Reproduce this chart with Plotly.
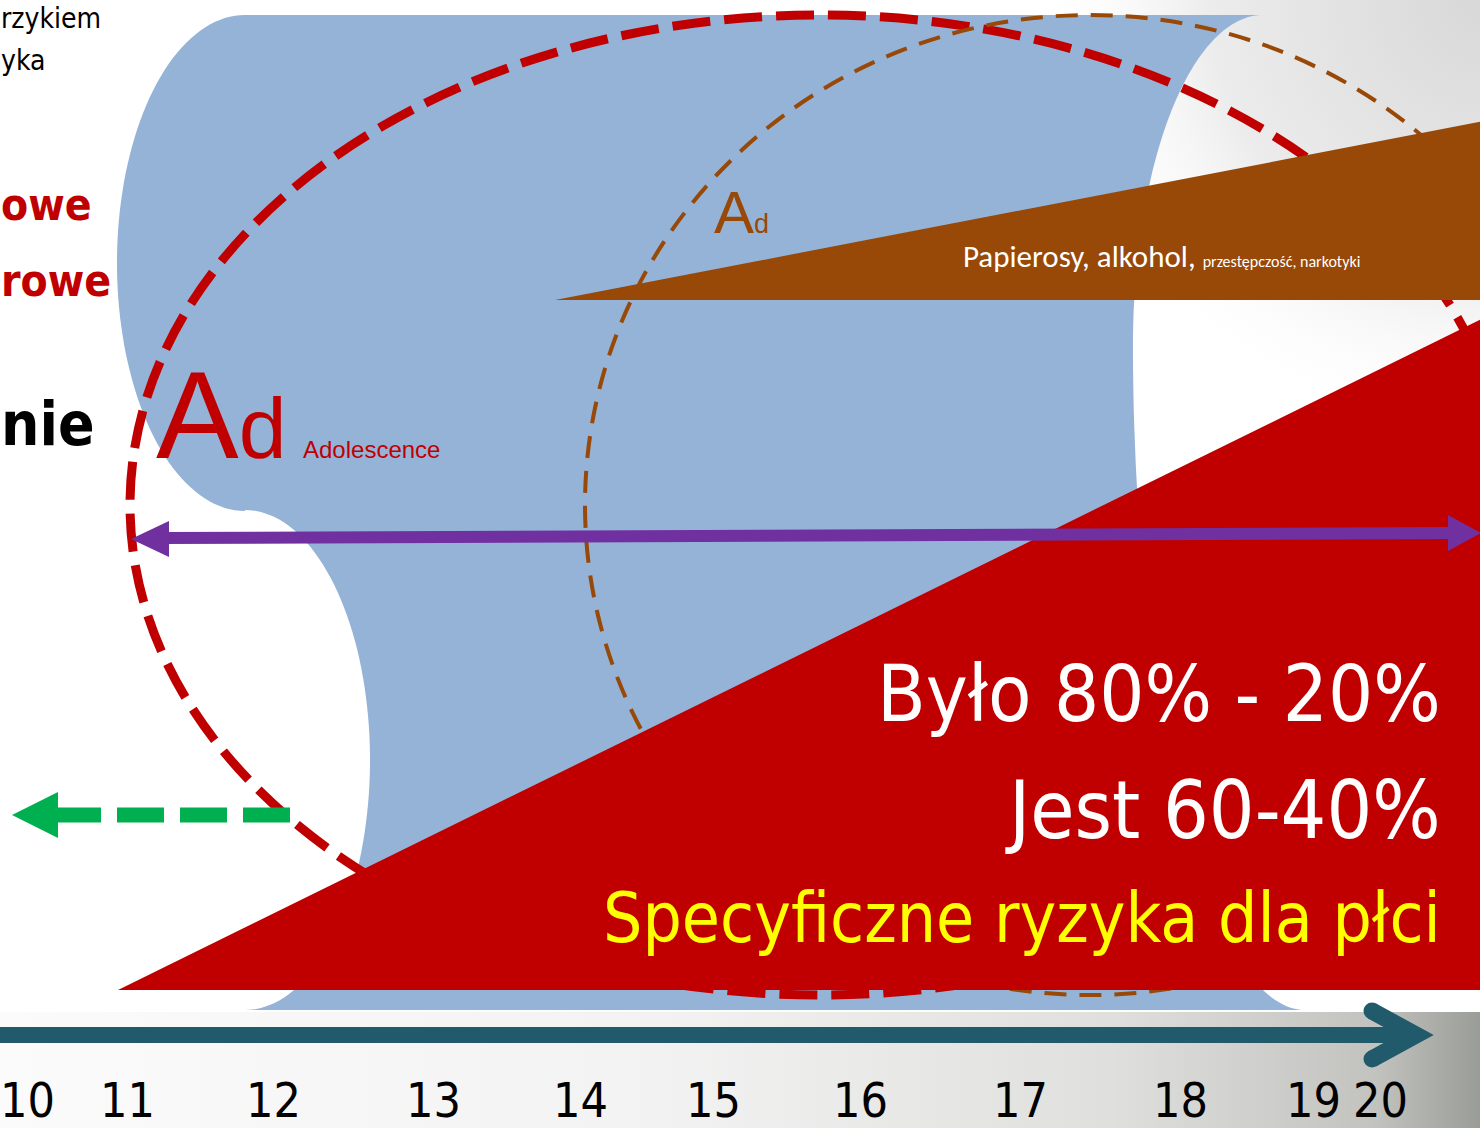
import numpy as np
import plotly.graph_objects as go

W, H = 1480, 1128

# ---------------- data / text content ----------------
age_labels = ["10", "11", "12", "13", "14", "15", "16", "17", "18", "19", "20"]
age_pos = [27, 127, 273, 433, 580, 713, 860, 1020, 1180, 1313, 1380]

left_black_small = ["rzykiem", "yka"]
left_red_bold = ["owe", "rowe"]
left_black_big = ["nie"]

ad_big = ("A", "d")
ad_label = "Adolescence"
ad_small = ("A", "d")
risk_main = "Papierosy, alkohol,"
risk_small = "przestępczość, narkotyki"
ratio_lines = ["Było 80% - 20%", "Jest 60-40%"]
gender_line = "Specyficzne ryzyka dla płci"

# ---------------- styles ----------------
BLUE = "#95b3d7"
RED = "#c00000"
BROWN = "#984807"
PURPLE = "#7030a0"
GREEN = "#00b050"
TEAL = "#215a6b"
YELLOW = "#ffff00"
ARIAL = "Liberation Sans, Arial, sans-serif"
NARROW = ("Liberation Sans Narrow, Arial Narrow, DejaVu Sans Condensed, "
          "Liberation Sans, sans-serif")
CALIBRI = "Carlito, Lato, Open Sans, sans-serif"


def arc(cx, cy, rx, ry, t0, t1, n=80):
    t = np.radians(np.linspace(t0, t1, n))
    return list(zip(cx + rx * np.cos(t), cy + ry * np.sin(t)))


def path_from(points, close=True):
    s = "M " + " L ".join(f"{x:.1f},{y:.1f}" for x, y in points)
    return s + (" Z" if close else "")


# blue "cylinder" shape
blue_pts = [(245, 15), (1263, 15)]
blue_pts += arc(1263, 345, 130, 330, -90, -180)
blue_pts += arc(1305, 345, 172, 665, 180, 90)
blue_pts += [(245, 1010)]
blue_pts += arc(245, 760, 125, 250, 90, -90)
blue_pts += arc(245, 263, 128, 248, 90, 270)

fig = go.Figure()

# background texture approximations
fig.add_trace(go.Scatter(
    x=[0, 1480, 1480, 0], y=[1012, 1012, 1128, 1128], fill="toself", mode="none",
    fillgradient=dict(type="horizontal",
                      colorscale=[[0, "#fbfbfb"], [0.45, "#f2f2f2"], [0.75, "#dfdfdd"],
                                  [0.93, "#c2c3bf"], [1, "#9a9c97"]]),
    hoverinfo="skip", showlegend=False))
fig.add_trace(go.Scatter(
    x=[1030, 1930, 1930, 1030], y=[-450, -450, 450, 450], fill="toself", mode="none",
    fillgradient=dict(type="radial",
                      colorscale=[[0, "#d8d8d8"], [0.6, "#ececec"], [1, "rgba(255,255,255,0)"]]),
    hoverinfo="skip", showlegend=False))

shapes = []
shapes.append(dict(type="path", path=path_from(blue_pts), fillcolor=BLUE,
                   line=dict(width=0), xref="x", yref="y"))
# red dashed ellipse
shapes.append(dict(type="circle", x0=130, x1=1510, y0=15, y1=995, xref="x", yref="y",
                   line=dict(color=RED, width=9, dash="38px,14px")))
# brown dashed ellipse
shapes.append(dict(type="circle", x0=585, x1=1595, y0=15, y1=995, xref="x", yref="y",
                   line=dict(color=BROWN, width=4, dash="22px,13px")))
# brown triangle
shapes.append(dict(type="path", path="M 555,300 L 1500,118 L 1500,300 Z", fillcolor=BROWN,
                   line=dict(width=0), xref="x", yref="y"))
# red triangle
shapes.append(dict(type="path", path="M 118,990 L 1500,310 L 1500,990 Z", fillcolor=RED,
                   line=dict(width=0), xref="x", yref="y"))
# purple double arrow
shapes.append(dict(type="line", x0=160, y0=538, x1=1455, y1=533, xref="x", yref="y",
                   line=dict(color=PURPLE, width=12)))
shapes.append(dict(type="path", path="M 131,539 L 169,521 L 169,557 Z", fillcolor=PURPLE,
                   line=dict(width=0), xref="x", yref="y"))
shapes.append(dict(type="path", path="M 1481,533 L 1448,515 L 1448,551 Z", fillcolor=PURPLE,
                   line=dict(width=0), xref="x", yref="y"))
# green dashed arrow
shapes.append(dict(type="line", x0=290, y0=815, x1=56, y1=815, xref="x", yref="y",
                   line=dict(color=GREEN, width=15, dash="47px,16px")))
shapes.append(dict(type="path", path="M 12,815 L 58,792 L 58,838 Z", fillcolor=GREEN,
                   line=dict(width=0), xref="x", yref="y"))
# teal time arrow
shapes.append(dict(type="line", x0=-10, y0=1035, x1=1410, y1=1035, xref="x", yref="y",
                   line=dict(color=TEAL, width=16)))
shapes.append(dict(type="path", path="M 1372,1011 L 1416,1035 L 1372,1059", xref="x", yref="y",
                   line=dict(color=TEAL, width=17)))
for cy in (1011, 1059):
    shapes.append(dict(type="circle", x0=1372 - 8.5, x1=1372 + 8.5, y0=cy - 8.5, y1=cy + 8.5,
                       fillcolor=TEAL, line=dict(width=0), xref="x", yref="y"))


annotations = []


def txt(s, x, baseline, size, color, family, xanchor="left", weight="normal"):
    annotations.append(dict(text=s, x=x, y=baseline - 0.35 * size, xref="x", yref="y",
                            xanchor=xanchor, yanchor="middle", showarrow=False, borderpad=0,
                            font=dict(size=size, color=color, family=family, weight=weight)))


# left-edge text fragments
txt(left_black_small[0], 0, 28, 28, "black", NARROW, "left")
txt(left_black_small[1], 0, 70, 28, "black", NARROW, "left")
txt(left_red_bold[0], 0, 220, 44, RED, NARROW, "left", "bold")
txt(left_red_bold[1], 0, 296, 44, RED, NARROW, "left", "bold")
txt(left_black_big[0], 0, 445, 60, "black", NARROW, "left", "bold")

# Ad labels
txt(f"{ad_big[0]}<span style='font-size:86px'>{ad_big[1]}</span>", 155, 458, 124, RED, ARIAL)
txt(ad_label, 302, 458, 24, RED, ARIAL)
txt(f"{ad_small[0]}<span style='font-size:27px'>{ad_small[1]}</span>", 713, 233, 60, BROWN, ARIAL)

# risk text in brown triangle
txt(f"{risk_main} <span style='font-size:16px'>{risk_small}</span>", 962, 267, 31, "white", CALIBRI)

# red triangle texts
txt(ratio_lines[0], 1442, 722, 79, "white", NARROW, "right")
txt(ratio_lines[1], 1442, 838, 80, "white", NARROW, "right")
txt(gender_line, 1442, 942, 69, YELLOW, NARROW, "right")

# ages
for lab, xp in zip(age_labels, age_pos):
    txt(lab, xp, 1117, 48, "black", NARROW, "center")

fig.update_layout(
    width=W, height=H, margin=dict(l=0, r=0, t=0, b=0),
    paper_bgcolor="white", plot_bgcolor="white",
    xaxis=dict(range=[0, W], visible=False, fixedrange=True),
    yaxis=dict(range=[H, 0], visible=False, fixedrange=True),
    shapes=shapes, annotations=annotations, showlegend=False,
)

fig.write_html("out.html", config={"displayModeBar": False},
               post_script="document.body.style.margin='0';")
